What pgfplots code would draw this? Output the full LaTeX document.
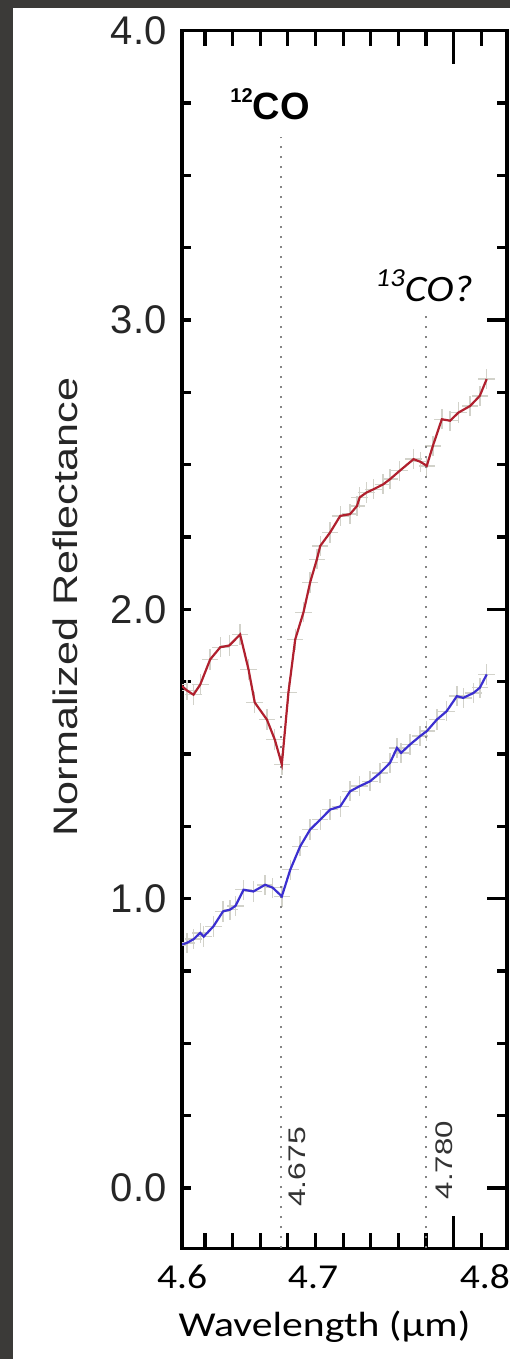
\documentclass[border=0pt]{standalone}
\usepackage{fontspec}
\setmainfont{Liberation Sans}
\newfontfamily\calibri{Carlito}
\usepackage{pgfplots}
\pgfplotsset{compat=1.18}
\definecolor{frame}{HTML}{3B3A38}
\definecolor{redline}{HTML}{B0202E}
\definecolor{blueline}{HTML}{3B2FD0}
\definecolor{errgray}{HTML}{D2D2CA}
\definecolor{dotgray}{HTML}{858585}

\pgfplotstableread{
x y
4.602 1.74
4.6068 1.72
4.6116 1.705
4.6165 1.74
4.6237 1.827
4.631 1.869
4.6375 1.875
4.6454 1.913
4.6515 1.792
4.656 1.678
4.6648 1.619
4.6705 1.55
4.6756 1.464
4.6804 1.713
4.6853 1.896
4.6913 1.99
4.6961 2.093
4.701 2.173
4.7034 2.219
4.7106 2.266
4.7179 2.323
4.725 2.329
4.730 2.357
4.732 2.387
4.737 2.404
4.742 2.415
4.749 2.432
4.754 2.45
4.761 2.479
4.771 2.519
4.776 2.51
4.7806 2.496
4.785 2.565
4.7915 2.657
4.7975 2.652
4.8035 2.68
4.812 2.703
4.819 2.738
4.824 2.796
}\redtable

\pgfplotstableread{
x y
4.602 0.84
4.6068 0.847
4.6117 0.86
4.6165 0.882
4.619 0.869
4.626 0.904
4.633 0.956
4.638 0.962
4.642 0.975
4.6479 1.031
4.655 1.025
4.6635 1.048
4.669 1.038
4.6756 1.008
4.6817 1.10
4.6889 1.181
4.6961 1.239
4.7034 1.273
4.7106 1.308
4.7179 1.319
4.725 1.371
4.732 1.389
4.7396 1.406
4.7468 1.435
4.754 1.47
4.759 1.521
4.762 1.504
4.7685 1.533
4.7758 1.562
4.7806 1.579
4.7879 1.619
4.795 1.648
4.8024 1.70
4.807 1.694
4.8144 1.711
4.819 1.729
4.824 1.775
}\bluetable

\pgfplotsset{
  base/.style={
    scale only axis,
    width=162.5pt, height=608.9pt,
    xmin=4.6033, xmax=4.8387,
    ymin=-0.209, ymax=4.0,
    at={(91pt,55.25pt)}, anchor=south west,
  },
}

\begin{document}
\begin{tikzpicture}
\clip (0,0) rectangle (255pt,679.5pt);
\fill[frame] (0,0) rectangle (255pt,679.5pt);
\fill[white] (6.5pt,0) rectangle (255pt,675.5pt);

% frame and short x ticks
\begin{axis}[base,
  axis line style={line width=1.6pt},
  xtick={4.62,4.64,4.66,4.68,4.70,4.72,4.74,4.76,4.78,4.82},
  xticklabels={},
  ytick=\empty,
  xtick pos=both,
  tick style={line width=1.6pt, black},
  major tick length=7.5pt,
]
\end{axis}

% x tick labels
\begin{axis}[base,
  axis line style={draw=none},
  xtick=\empty, ytick=\empty,
  extra x ticks={4.6034,4.6982,4.8227},
  extra x tick labels={
    \scalebox{1.13}[1]{\calibri\fontsize{17.5}{20}\selectfont 4.6},
    \scalebox{1.13}[1]{\calibri\fontsize{17.5}{20}\selectfont 4.7},
    \scalebox{1.13}[1]{\calibri\fontsize{17.5}{20}\selectfont 4.8}},
  extra x tick style={tick style={draw=none},
    xticklabel style={anchor=base, inner sep=0pt, yshift=-20pt}},
]
\end{axis}

% data and left y ticks
\begin{axis}[base,
  axis line style={draw=none},
  xtick=\empty,
  ytick={0,1,2,3,4},
  yticklabels={0.0,1.0,2.0,3.0,4.0},
  minor y tick num=3,
  ytick pos=left,
  tick style={line width=1.6pt, black},
  major tick length=4.5pt, minor tick length=4.5pt,
  yticklabel style={font=\fontsize{20}{24}\selectfont, inner sep=0pt, xshift=-7.5pt, text=black!85},
]
\addplot[draw=none, forget plot,
  error bars/.cd, x dir=both, x fixed=0.006, y dir=both, y fixed=0.035,
  error mark=none, error bar style={draw=errgray, line width=0.7pt}]
  table[x=x,y=y] {\redtable};
\addplot[draw=none, forget plot,
  error bars/.cd, x dir=both, x fixed=0.006, y dir=both, y fixed=0.035,
  error mark=none, error bar style={draw=errgray, line width=0.7pt}]
  table[x=x,y=y] {\bluetable};
\addplot[dotgray, line width=1.4pt, dash pattern=on 1.2pt off 3.8pt]
  coordinates {(4.675,-0.209) (4.675,3.633)};
\addplot[dotgray, line width=1.4pt, dash pattern=on 1.2pt off 3.8pt]
  coordinates {(4.780,-0.209) (4.780,3.031)};
% long major ticks at 4.8 (bottom and top)
\addplot[black, line width=1.7pt] coordinates {(4.8,-0.209) (4.8,-0.095)};
\addplot[black, line width=1.7pt] coordinates {(4.8,4.0) (4.8,3.886)};
\addplot[redline, line width=1.1pt, mark=none] table[x=x,y=y] {\redtable};
\addplot[blueline, line width=1.1pt, mark=none] table[x=x,y=y] {\bluetable};
\end{axis}

% right y ticks
\begin{axis}[base,
  axis line style={draw=none},
  xtick=\empty,
  ytick={0,1,2,3,4},
  yticklabels={},
  minor y tick num=3,
  ytick pos=right,
  tick style={line width=1.6pt, black},
  major tick length=10pt, minor tick length=5pt,
]
\end{axis}

% annotations
\node[anchor=base west, inner sep=0pt] at (115pt,619.5pt)
  {\bfseries\raisebox{8.5pt}{\fontsize{10}{12}\selectfont 12}\fontsize{19}{23}\selectfont CO};
\node[anchor=base west, inner sep=0pt] at (187.5pt,528.65pt)
  {\scalebox{1.12}[1]{\calibri\itshape\raisebox{7.7pt}{\fontsize{13}{15}\selectfont 13}\fontsize{18.6}{22}\selectfont CO?}};
\node[rotate=90, inner sep=0pt, text=black!80] at (148.5pt,96pt)
  {\scalebox{1.33}[1]{\fontsize{12}{14}\selectfont 4.675}};
\node[rotate=90, inner sep=0pt, text=black!80] at (222pt,99.5pt)
  {\scalebox{1.3}[1]{\fontsize{12}{14}\selectfont 4.780}};
\node[rotate=90, inner sep=0pt, text=black!85] at (32.5pt,376pt)
  {\scalebox{1.27}[1]{\fontsize{17}{20}\selectfont Normalized Reflectance}};
\node[anchor=base, inner sep=0pt] at (162.25pt,11pt)
  {\scalebox{1.19}[1]{\calibri\fontsize{17.5}{20}\selectfont Wavelength (µm)}};
\end{tikzpicture}
\end{document}
